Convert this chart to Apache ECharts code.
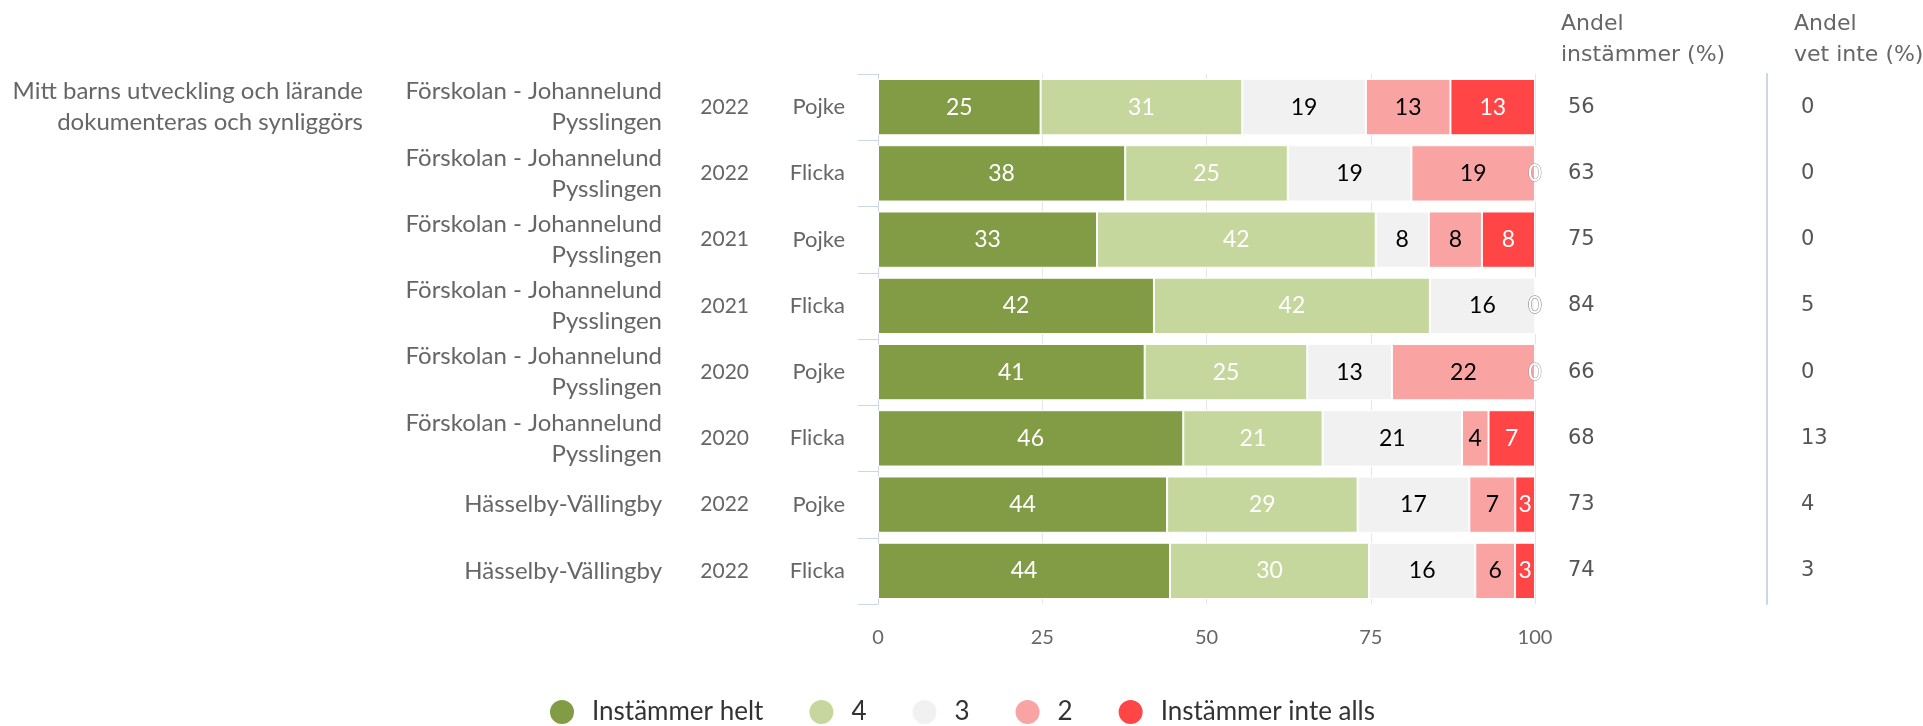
<!DOCTYPE html>
<html>
<head>
<meta charset="utf-8">
<script src="https://cdn.jsdelivr.net/npm/echarts@6/dist/echarts.min.js"></script>
<style>
  html, body { margin: 0; padding: 0; background: #fff; }
  #chart { width: 1923px; height: 726px; }
</style>
</head>
<body>
<div id="chart"></div>
<script>
// Survey question and row groupings
const question = 'Mitt barns utveckling och lärande\ndokumenteras och synliggörs';
const schools = [
  'Förskolan - Johannelund\nPysslingen',
  'Förskolan - Johannelund\nPysslingen',
  'Förskolan - Johannelund\nPysslingen',
  'Förskolan - Johannelund\nPysslingen',
  'Förskolan - Johannelund\nPysslingen',
  'Förskolan - Johannelund\nPysslingen',
  'Hässelby-Vällingby',
  'Hässelby-Vällingby'
];
const years = ['2022', '2022', '2021', '2021', '2020', '2020', '2022', '2022'];
const genders = ['Pojke', 'Flicka', 'Pojke', 'Flicka', 'Pojke', 'Flicka', 'Pojke', 'Flicka'];

// Answer shares (%) per row
const seriesNames = ['Instämmer helt', '4', '3', '2', 'Instämmer inte alls'];
const helt = [25, 38, 33, 42, 41, 46, 44, 44];
const fyra = [31, 25, 42, 42, 25, 21, 29, 30];
const tre = [19, 19, 8, 16, 13, 21, 17, 16];
const tva = [13, 19, 8, 0, 22, 4, 7, 6];
const inteAlls = [13, 0, 8, 0, 0, 7, 3, 3];

// Summary columns
const andelInstammer = [56, 63, 75, 84, 66, 68, 73, 74];
const andelVetInte = [0, 0, 0, 5, 0, 13, 4, 3];

// X-axis ticks
const xTicks = [0, 25, 50, 75, 100];

const colors = ['#819C44', '#C5D79D', '#F1F1F1', '#F9A3A3', '#FF4545'];
const labelColors = ['#ffffff', '#ffffff', '#000000', '#000000', '#ffffff'];
const values = [helt, fyra, tre, tva, inteAlls];

const rowKeys = genders.map((g, i) => i + '|' + years[i] + '|' + g);
// each row is stacked as shares of its own total (percent stacking)
const rowTotals = rowKeys.map((_, i) => values.reduce((s, arr) => s + arr[i], 0));

const leftFont = 'Lato';
const rightFont = 'DejaVu Sans';
const catLabel = (size) => ({
  fontFamily: leftFont, fontSize: size, color: '#666', lineHeight: 31, align: 'right'
});

const series = values.map((arr, k) => ({
  name: seriesNames[k],
  type: 'bar',
  stack: 'total',
  barCategoryGap: '15%',
  yAxisIndex: 0,
  itemStyle: { color: colors[k], borderColor: '#ffffff', borderWidth: 1 },
  label: {
    show: true,
    position: 'inside',
    fontFamily: leftFont,
    fontSize: 23,
    formatter: p => String(p.data.raw)
  },
  data: arr.map((v, i) => {
    const item = { value: v / rowTotals[i] * 100, raw: v };
    if (v === 0) {
      item.label = { color: '#ffffff', textBorderColor: '#999999', textBorderWidth: 1 };
    } else {
      item.label = { color: labelColors[k] };
    }
    return item;
  })
}));

const chart = echarts.init(document.getElementById('chart'));
chart.setOption({
  animation: false,
  color: colors,
  grid: { left: 878, right: 388, top: 74, height: 530 },
  legend: {
    top: 698,
    left: 'center',
    icon: 'circle',
    itemWidth: 26,
    itemHeight: 26,
    itemGap: 44,
    padding: 0,
    textStyle: { fontFamily: leftFont, fontSize: 26, color: '#333', padding: [0, 0, 0, 12] },
    data: seriesNames
  },
  xAxis: {
    type: 'value',
    min: xTicks[0],
    max: xTicks[xTicks.length - 1],
    interval: 25,
    axisLine: { show: false },
    axisTick: { show: false },
    splitLine: { lineStyle: { color: '#e6e6e6', width: 1 } },
    axisLabel: {
      fontFamily: leftFont, fontSize: 20, color: '#666', margin: 24,
      formatter: v => (xTicks.indexOf(v) >= 0 ? String(v) : '')
    }
  },
  yAxis: [
    {
      type: 'category', data: rowKeys, inverse: true, position: 'left',
      axisLine: { show: true, lineStyle: { color: '#ccd6eb' } },
      axisTick: { show: true, length: 20, lineStyle: { color: '#ccd6eb' } },
      axisLabel: Object.assign({ margin: 33, formatter: (v, i) => genders[i] }, catLabel(22))
    },
    {
      type: 'category', data: rowKeys, inverse: true, position: 'left',
      axisLine: { show: false }, axisTick: { show: false },
      axisLabel: Object.assign({ margin: 129, formatter: (v, i) => years[i] }, catLabel(21))
    },
    {
      type: 'category', data: rowKeys, inverse: true, position: 'left',
      axisLine: { show: false }, axisTick: { show: false },
      axisLabel: Object.assign({ margin: 216, formatter: (v, i) => schools[i] }, catLabel(24))
    },
    {
      type: 'category', data: rowKeys, inverse: true, position: 'left',
      axisLine: { show: false }, axisTick: { show: false },
      axisLabel: Object.assign({ margin: 515, formatter: (v, i) => (i === 0 ? question : '') }, catLabel(24))
    },
    {
      type: 'category', data: rowKeys, inverse: true, position: 'right',
      axisLine: { show: false }, axisTick: { show: false },
      axisLabel: {
        margin: 33, align: 'left', fontFamily: rightFont, fontSize: 21, color: '#555',
        formatter: (v, i) => String(andelInstammer[i])
      }
    },
    {
      type: 'category', data: rowKeys, inverse: true, position: 'right', offset: 232,
      axisLine: { show: true, lineStyle: { color: '#ccd6eb', width: 2 } },
      axisTick: { show: false },
      axisLabel: {
        margin: 34, align: 'left', fontFamily: rightFont, fontSize: 21, color: '#555',
        formatter: (v, i) => String(andelVetInte[i])
      }
    }
  ],
  graphic: [
    {
      type: 'text', left: 1561, top: 9,
      style: { text: 'Andel\ninstämmer (%)', fontFamily: rightFont, fontSize: 22, lineHeight: 31, fill: '#666' }
    },
    {
      type: 'text', left: 1794, top: 9,
      style: { text: 'Andel\nvet inte (%)', fontFamily: rightFont, fontSize: 22, lineHeight: 31, fill: '#666' }
    }
  ],
  series: series
});
</script>
</body>
</html>
